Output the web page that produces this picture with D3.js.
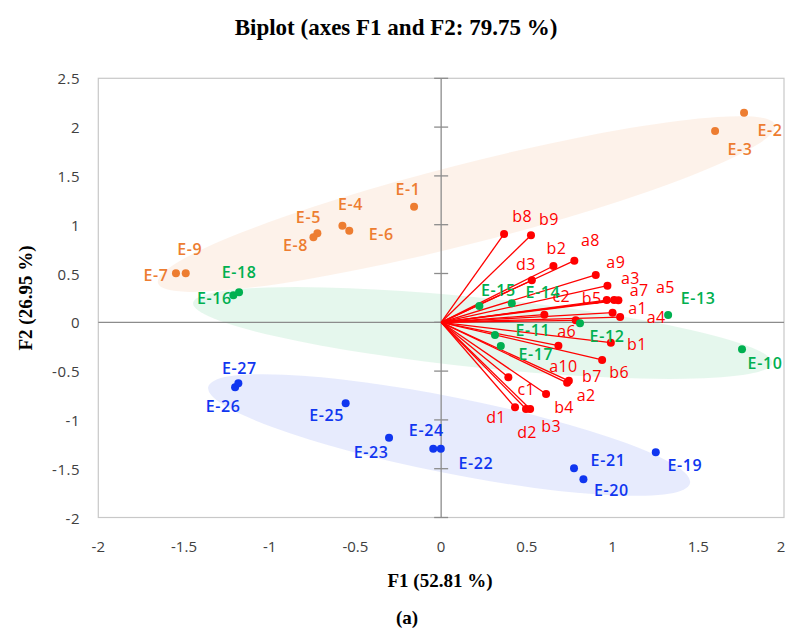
<!DOCTYPE html>
<html>
<head>
<meta charset="utf-8">
<script src="https://cdn.jsdelivr.net/npm/d3@7"></script>
<style>
  body { margin: 0; background: #fff; }
  svg { display: block; }
</style>
</head>
<body>
<svg id="chart" width="787" height="633"></svg>
<script>
// observations (F1, F2)
const obsNames = ["E-1", "E-2", "E-3", "E-4", "E-5", "E-6", "E-7", "E-8", "E-9",
  "E-10", "E-11", "E-12", "E-13", "E-14", "E-15", "E-16", "E-17", "E-18",
  "E-19", "E-20", "E-21", "E-22", "E-23", "E-24", "E-25", "E-26", "E-27"];
const obsF1 = [-0.158, 1.767, 1.598, -0.576, -0.722, -0.536, -1.547, -0.745, -1.49,
  1.755, 0.314, 0.81, 1.324, 0.412, 0.223, -1.212, 0.348, -1.179,
  1.252, 0.83, 0.775, -0.002, -0.304, -0.046, -0.557, -1.202, -1.183];
const obsF2 = [1.184, 2.148, 1.96, 0.99, 0.912, 0.939, 0.502, 0.871, 0.502,
  -0.277, -0.13, -0.01, 0.075, 0.195, 0.167, 0.277, -0.243, 0.307,
  -1.332, -1.609, -1.496, -1.295, -1.182, -1.295, -0.83, -0.666, -0.625];
const obsGroup = [0, 0, 0, 0, 0, 0, 0, 0, 0,
  1, 1, 1, 1, 1, 1, 1, 1, 1,
  2, 2, 2, 2, 2, 2, 2, 2, 2];

// variables (loadings)
const varNames = ["a1", "a2", "a3", "a4", "a5", "a6", "a7", "a8", "a9", "a10",
  "b1", "b2", "b3", "b4", "b5", "b6", "b7", "b8", "b9", "c1", "c2", "d1", "d2", "d3"];
const varF1 = [1.0, 0.735, 0.97, 1.044, 1.034, 0.785, 1.009, 0.777, 0.902, 0.684,
  0.99, 0.655, 0.519, 0.612, 0.966, 0.939, 0.745, 0.367, 0.524, 0.392, 0.602, 0.431, 0.495, 0.529];
const varF2 = [0.099, -0.62, 0.375, 0.054, 0.225, 0.02, 0.228, 0.631, 0.485, -0.24,
  -0.209, 0.577, -0.888, -0.735, 0.228, -0.386, -0.6, 0.905, 0.891, -0.564, 0.078, -0.871, -0.888, 0.43];

// group ellipses: major axis ends in (F1, F2) and minor/major ratio
const groupColors = ["#ED7D31", "#00B050", "#1036F0"];
const ellipseFrom = [[-1.652, 0.403], [-1.447, 0.198], [-1.359, -0.663]];
const ellipseTo = [[1.948, 2.021], [1.931, -0.417], [1.452, -1.647]];
const ellipseRatio = [0.125, 0.12, 0.155];

const xTicks = [-2, -1.5, -1, -0.5, 0, 0.5, 1, 1.5, 2];
const yTicks = [-2, -1.5, -1, -0.5, 0, 0.5, 1, 1.5, 2, 2.5];

// label placement (px from the point)
const labelOffsets = {
  "E-1": [-6, -18], "E-2": [26, 17], "E-3": [25, 18], "E-4": [8, -22], "E-5": [-9, -16],
  "E-6": [32, 3], "E-7": [-20, 2], "E-8": [-18, 8], "E-9": [4, -24],
  "E-10": [23, 14], "E-11": [38, -5], "E-12": [27, 13], "E-13": [30, -17], "E-14": [31, -11],
  "E-15": [19, -16], "E-16": [-19, 3], "E-17": [35, 8], "E-18": [0, -20],
  "E-19": [29, 13], "E-20": [28, 11], "E-21": [34, -8], "E-22": [35, 14], "E-23": [-18, 14],
  "E-24": [-7, -19], "E-25": [-19, 12], "E-26": [-12, 19], "E-27": [1, -15],
  a1: [25, -5], a2: [19, 12], a3: [23, -8], a4: [36, 0], a5: [47, -13], a6: [-9, 11],
  a7: [25, -10], a8: [16, -21], a9: [20, -13], a10: [5, 20],
  b1: [26, 1], b2: [3, -18], b3: [21, 17], b4: [18, 13], b5: [-15, -2], b6: [17, 12],
  b7: [23, -5], b8: [18, -18], b9: [18, -16], c1: [18, 12], c2: [17, -19],
  d1: [-19, 10], d2: [1, 23], d3: [-6, -16]
};

const svg = d3.select("#chart");
const x = d3.scaleLinear().domain([-2, 2]).range([98.3, 784]);
const y = d3.scaleLinear().domain([-2, 2.5]).range([517.5, 78.3]);
const sans = "'Open Sans', 'Noto Sans', sans-serif";
const serif = "'Liberation Serif', 'DejaVu Serif', serif";

// title
svg.append("text")
  .attr("x", 396).attr("y", 35)
  .attr("text-anchor", "middle")
  .style("font-family", serif).style("font-weight", "bold").style("font-size", "23px")
  .text("Biplot (axes F1 and F2: 79.75 %)");

// ellipses
groupColors.forEach((c, i) => {
  const x1 = x(ellipseFrom[i][0]), y1 = y(ellipseFrom[i][1]);
  const x2 = x(ellipseTo[i][0]), y2 = y(ellipseTo[i][1]);
  const rx = Math.hypot(x2 - x1, y2 - y1) / 2;
  const ang = Math.atan2(y2 - y1, x2 - x1) * 180 / Math.PI;
  svg.append("ellipse")
    .attr("transform", `translate(${(x1 + x2) / 2},${(y1 + y2) / 2}) rotate(${ang})`)
    .attr("rx", rx).attr("ry", rx * ellipseRatio[i])
    .attr("fill", c).attr("fill-opacity", 0.1);
});

// frame
svg.append("rect")
  .attr("x", x(-2)).attr("y", y(2.5))
  .attr("width", x(2) - x(-2)).attr("height", y(-2) - y(2.5))
  .attr("fill", "none").attr("stroke", "#C8C8C8").attr("stroke-width", 1.2);

// axes through the origin
svg.append("line")
  .attr("x1", x(-2)).attr("x2", x(2)).attr("y1", y(0)).attr("y2", y(0))
  .attr("stroke", "#8C8C8C").attr("stroke-width", 1.3);
svg.append("line")
  .attr("x1", x(0)).attr("x2", x(0)).attr("y1", y(2.5)).attr("y2", y(-2))
  .attr("stroke", "#8C8C8C").attr("stroke-width", 1.3);
svg.append("g")
  .selectAll("line")
  .data(yTicks)
  .join("line")
  .attr("x1", x(0) - 7).attr("x2", x(0) + 7)
  .attr("y1", (d) => y(d)).attr("y2", (d) => y(d))
  .attr("stroke", "#8C8C8C").attr("stroke-width", 1.3);

// tick labels (last one kept inside the page)
svg.append("g")
  .selectAll("text")
  .data(xTicks)
  .join("text")
  .attr("x", (d) => Math.min(x(d), 781)).attr("y", 546)
  .attr("text-anchor", "middle").attr("dominant-baseline", "central")
  .style("font-family", sans).style("font-size", "15px")
  .attr("fill", "#404040")
  .text((d) => String(d));
svg.append("g")
  .selectAll("text")
  .data(yTicks)
  .join("text")
  .attr("x", 80).attr("y", (d) => y(d))
  .attr("text-anchor", "end").attr("dominant-baseline", "central")
  .style("font-family", sans).style("font-size", "15px").style("letter-spacing", "0.5px")
  .attr("fill", "#404040")
  .text((d) => String(d));

// axis titles
svg.append("text")
  .attr("x", 440).attr("y", 580)
  .attr("text-anchor", "middle").attr("dominant-baseline", "central")
  .style("font-family", serif).style("font-weight", "bold").style("font-size", "19px")
  .text("F1 (52.81 %)");
svg.append("text")
  .attr("transform", "translate(25,298) rotate(-90)")
  .attr("text-anchor", "middle").attr("dominant-baseline", "central")
  .style("font-family", serif).style("font-weight", "bold").style("font-size", "19px")
  .text("F2 (26.95 %)");
svg.append("text")
  .attr("x", 407).attr("y", 617)
  .attr("text-anchor", "middle").attr("dominant-baseline", "central")
  .style("font-family", serif).style("font-weight", "bold").style("font-size", "19px")
  .text("(a)");

// variable vectors
const vars = varNames.map((n, i) => ({ name: n, f1: varF1[i], f2: varF2[i] }));
const obs = obsNames.map((n, i) => ({ name: n, f1: obsF1[i], f2: obsF2[i], g: obsGroup[i] }));

svg.append("g")
  .selectAll("line")
  .data(vars)
  .join("line")
  .attr("x1", x(0)).attr("y1", y(0))
  .attr("x2", (d) => x(d.f1)).attr("y2", (d) => y(d.f2))
  .attr("stroke", "#FF0000").attr("stroke-width", 1.3);
svg.append("g")
  .selectAll("circle")
  .data(vars)
  .join("circle")
  .attr("cx", (d) => x(d.f1)).attr("cy", (d) => y(d.f2)).attr("r", 4)
  .attr("fill", "#FF0000");

// labels
svg.append("g")
  .selectAll("text")
  .data(vars)
  .join("text")
  .attr("x", (d) => x(d.f1) + labelOffsets[d.name][0])
  .attr("y", (d) => y(d.f2) + labelOffsets[d.name][1])
  .attr("text-anchor", "middle").attr("dominant-baseline", "central")
  .style("font-family", sans).style("font-size", "16px").style("letter-spacing", "0.4px")
  .attr("fill", "#FF0000")
  .text((d) => d.name);
svg.append("g")
  .selectAll("text")
  .data(obs)
  .join("text")
  .attr("x", (d) => x(d.f1) + labelOffsets[d.name][0])
  .attr("y", (d) => y(d.f2) + labelOffsets[d.name][1])
  .attr("text-anchor", "middle").attr("dominant-baseline", "central")
  .style("font-family", sans).style("font-size", "16px").style("font-weight", "600")
  .style("letter-spacing", "0.6px")
  .attr("fill", (d) => groupColors[d.g])
  .text((d) => d.name);

// observation points
svg.append("g")
  .selectAll("circle")
  .data(obs)
  .join("circle")
  .attr("cx", (d) => x(d.f1)).attr("cy", (d) => y(d.f2)).attr("r", 4)
  .attr("fill", (d) => groupColors[d.g]);
</script>
</body>
</html>
